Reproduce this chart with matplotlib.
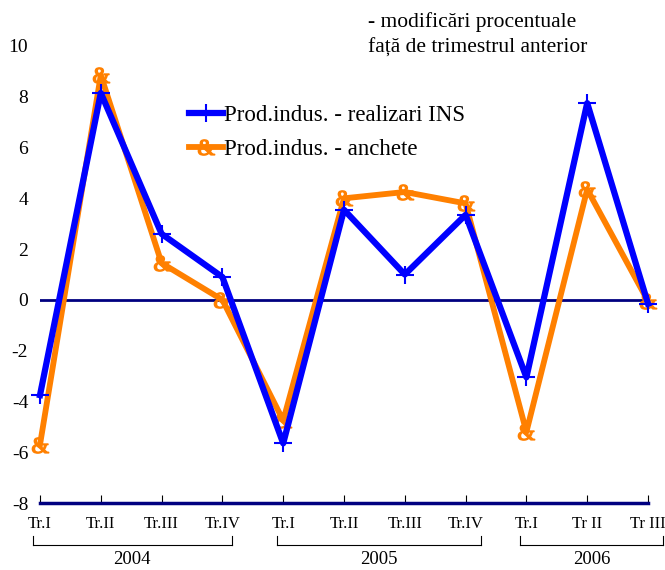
import matplotlib.pyplot as plt
from matplotlib.textpath import TextPath
from matplotlib.font_manager import FontProperties
from matplotlib.transforms import Affine2D

plt.rcParams['font.family'] = ['Liberation Serif', 'DejaVu Serif']

quarters = ["Tr.I", "Tr.II", "Tr.III", "Tr.IV",
            "Tr.I", "Tr.II", "Tr.III", "Tr.IV",
            "Tr.I", "Tr II", "Tr III"]
years = ["2004", "2005", "2006"]
ins = [-3.75, 8.15, 2.6, 0.9, -5.65, 3.55, 1.0, 3.35, -3.05, 7.75, -0.15]
anchete = [-5.7, 8.85, 1.45, 0.0, -4.75, 4.0, 4.25, 3.8, -5.2, 4.35, -0.05]

x = list(range(len(quarters)))

# '&' glyph as a marker, centred on the point
amp = TextPath((0, 0), "&", prop=FontProperties(family="Liberation Serif"))
ext = amp.get_extents()
amp = amp.transformed(Affine2D().translate(-(ext.x0 + ext.x1) / 2, -(ext.y0 + ext.y1) / 2))

fig = plt.figure(figsize=(6.65, 5.7), dpi=100)
ax = fig.add_axes([40 / 665, 67 / 570, 608 / 665, 457 / 570])

ax.plot(x, anchete, color="#FF8000", lw=4.2, marker=amp, ms=13,
        label="Prod.indus. - anchete", zorder=3, clip_on=False)
ax.plot(x, ins, color="#0000FF", lw=4.5, marker="+", ms=13, mew=1.5,
        label="Prod.indus. - realizari INS", zorder=4, clip_on=False)

ax.axhline(0, color="#000080", lw=2, zorder=2)

ax.set_xlim(0, 10)
ax.set_ylim(-8, 10)
ax.set_yticks(range(-8, 11, 2))
ax.set_yticklabels([str(v) for v in range(-8, 11, 2)], fontsize=14)
ax.tick_params(axis="y", length=0, pad=8.5)

ax.set_xticks(x)
ax.set_xticklabels(quarters, fontsize=12)
ax.tick_params(axis="x", direction="in", length=6, width=0.8, pad=9)

for s in ["left", "right", "top"]:
    ax.spines[s].set_visible(False)
ax.spines["bottom"].set_color("#000080")
ax.spines["bottom"].set_linewidth(2.5)

# year brackets below the quarter labels
trans = ax.get_xaxis_transform()
groups = [(-0.12, 3.15), (3.9, 7.25), (7.9, 10.25)]
for (a, b), yr in zip(groups, years):
    ax.plot([a, b], [-0.091, -0.091], color="black", lw=0.8, transform=trans, clip_on=False)
    for e in (a, b):
        ax.plot([e, e], [-0.091, -0.072], color="black", lw=0.8, transform=trans, clip_on=False)
    ax.text((a + b) / 2, -0.106, yr, ha="center", va="top", fontsize=13.5,
            transform=trans)

handles, labels = ax.get_legend_handles_labels()
ax.legend(handles[::-1], labels[::-1], loc="upper left", bbox_to_anchor=(0.245, 0.872),
          frameon=False, fontsize=16.5, handlelength=1.5, handletextpad=0.05,
          labelspacing=0.6, borderaxespad=0, borderpad=0)

fig.text(0.553, 0.962, "- modificări procentuale", fontsize=15.5, va="center")
fig.text(0.553, 0.915, "față de trimestrul anterior", fontsize=15.5, va="center")

fig.savefig("out.png", dpi=100)
